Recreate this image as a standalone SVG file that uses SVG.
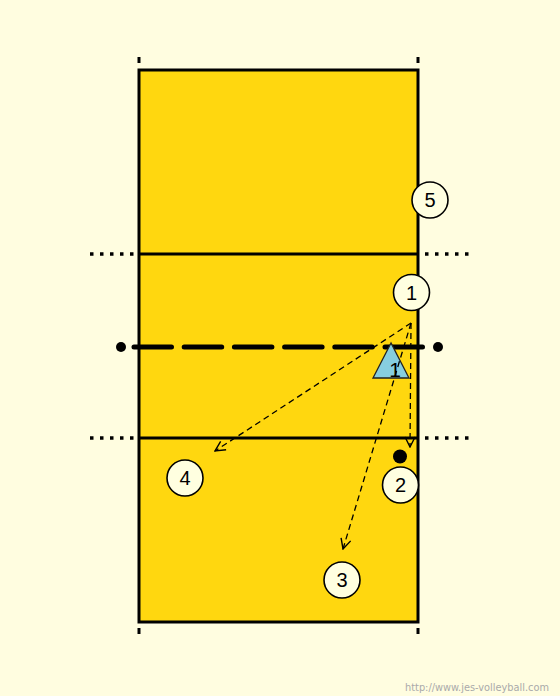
<svg xmlns="http://www.w3.org/2000/svg" width="560" height="696" viewBox="0 0 560 696">
<style>
.court{fill:#FFD70F;stroke:#000;stroke-width:3}
.line{stroke:#000;stroke-width:3;fill:none}
.dots{stroke:#000;stroke-width:3.5;stroke-dasharray:3.5 6.5;fill:none}
.tick{fill:#000}
.player circle{fill:#FFFFE0;stroke:#000;stroke-width:1.6}
.lbl{font-family:"Liberation Sans",Arial,sans-serif;font-size:20px;fill:#000;text-anchor:middle}
.move{stroke:#000;stroke-width:1.3;stroke-dasharray:6 4;fill:none;marker-end:url(#arr)}
</style>
<defs>
<marker id="arr" viewBox="0 0 12 12" refX="11" refY="6" markerWidth="12" markerHeight="12" markerUnits="userSpaceOnUse" orient="auto">
<path d="M1,1 L11,6 L1,11" fill="none" stroke="#000" stroke-width="1.4"/>
</marker>
</defs>
<rect width="560" height="696" fill="#FFFDE0"/>
<g id="court">
<rect class="court" x="139" y="70" width="279" height="552"/>
<rect class="tick" x="137.5" y="57" width="3" height="6"/>
<rect class="tick" x="416.5" y="57" width="3" height="6"/>
<rect class="tick" x="137.5" y="628" width="3" height="6"/>
<rect class="tick" x="416.5" y="628" width="3" height="6"/>
<line class="line" x1="139" y1="254" x2="418" y2="254"/>
<line class="line" x1="139" y1="438" x2="418" y2="438"/>
<line class="dots" x1="90" y1="254" x2="135" y2="254"/>
<line class="dots" x1="425" y1="254" x2="470" y2="254"/>
<line class="dots" x1="90" y1="438" x2="135" y2="438"/>
<line class="dots" x1="425" y1="438" x2="470" y2="438"/>
</g>
<g id="net">
<line x1="134" y1="347" x2="428" y2="347" stroke="#000" stroke-width="5" stroke-linecap="round" stroke-dasharray="37.5 12.7"/>
<circle cx="121" cy="347" r="5" fill="#000"/>
<circle cx="438" cy="347" r="5" fill="#000"/>
</g>
<g id="setter">
<polygon points="391,343 373,378 409,378" fill="#87CEDF" stroke="#222" stroke-width="1.3"/>
<text class="lbl" x="395" y="377" style="font-size:21px">1</text>
</g>
<g id="connectors">
<line class="move" x1="411" y1="323" x2="215" y2="451"/>
<line class="move" x1="411" y1="323" x2="410" y2="447"/>
<line class="move" x1="411" y1="323" x2="343" y2="549"/>
</g>
<g id="ball"><circle cx="400" cy="456.5" r="7" fill="#000"/></g>
<g id="p5" class="player"><circle cx="430" cy="200" r="18"/><text class="lbl" x="430" y="207">5</text></g>
<g id="p1" class="player"><circle cx="411.5" cy="292.5" r="18"/><text class="lbl" x="411.5" y="299.5">1</text></g>
<g id="p4" class="player"><circle cx="185" cy="478" r="18"/><text class="lbl" x="185" y="485">4</text></g>
<g id="p2" class="player"><circle cx="400.5" cy="485" r="18"/><text class="lbl" x="400.5" y="492">2</text></g>
<g id="p3" class="player"><circle cx="342" cy="580" r="18"/><text class="lbl" x="342" y="587">3</text></g>
<text x="405" y="691" font-family="DejaVu Sans,Verdana,sans-serif" font-size="10" fill="#AAAAAA" textLength="144" lengthAdjust="spacingAndGlyphs">http://www.jes-volleyball.com</text>
</svg>
